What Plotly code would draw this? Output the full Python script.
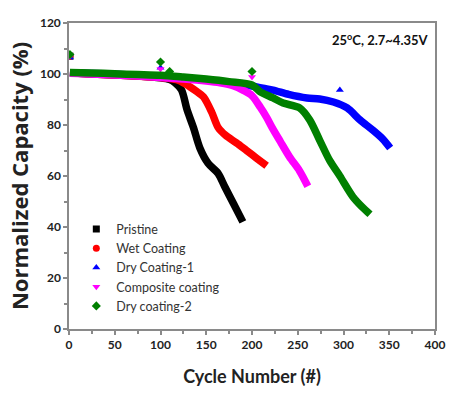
import plotly.graph_objects as go

# ---- data ----
names = ["Pristine", "Wet Coating", "Dry Coating-1", "Composite coating", "Dry coating-2"]
colors = ["#000000", "#ff0000", "#0000ff", "#ff00ff", "#008000"]
symbols = ["square", "circle", "triangle-up", "triangle-down", "diamond"]

pristine_x = [1, 10, 25, 50, 75, 100, 110, 116, 123, 129, 136, 143, 152, 163, 170, 180, 190]
pristine_y = [100.5, 100.3, 100, 99.6, 99.2, 98.5, 97.8, 96.5, 93.7, 86, 79, 71, 65, 61, 56, 49, 42]

wet_x = [1, 25, 50, 75, 100, 120, 132, 140, 147, 156, 163, 171, 183, 194, 205, 216]
wet_y = [100.5, 100, 99.6, 99.2, 98.6, 97.5, 95, 93, 91, 85, 79, 76, 73, 70, 67, 64]

dry1_x = [1, 25, 50, 75, 100, 125, 150, 175, 200, 212, 223, 240, 260, 274, 289, 304, 318, 332, 343, 351]
dry1_y = [100.5, 100.2, 99.9, 99.5, 99, 98.4, 97.6, 96.6, 95.3, 94.4, 93.7, 92, 90.6, 90.2, 89, 86.7, 82, 78, 74.5, 71]

comp_x = [1, 25, 50, 75, 100, 125, 150, 165, 180, 190, 200, 209, 216, 222, 231, 241, 252, 261]
comp_y = [100.3, 100, 99.6, 99.2, 98.6, 98, 97.2, 96.5, 95.3, 93.7, 91.5, 87, 83, 79, 73.5, 67.5, 62, 56]

dry2_x = [1, 25, 50, 75, 100, 125, 150, 175, 200, 209, 223, 234, 252, 263, 274, 285, 296, 310, 320, 329]
dry2_y = [100.6, 100.4, 100.1, 99.8, 99.5, 98.8, 98, 97, 95.7, 93, 90.6, 88.6, 86.7, 82, 74, 66, 60, 52, 48, 45]

# stray points (first cycle and rate-check cycles)
pristine_px, pristine_py = [1], [107]
wet_px, wet_py = [1], [107]
dry1_px, dry1_py = [1, 100, 296], [106.5, 102.5, 93.7]
comp_px, comp_py = [1, 100, 200], [107, 102, 98.8]
dry2_px, dry2_py = [1, 100, 110, 200], [107.6, 104.7, 101, 101]

x_ticks = [0, 50, 100, 150, 200, 250, 300, 350, 400]
y_ticks = [0, 20, 40, 60, 80, 100, 120]

curves = [(pristine_x, pristine_y), (wet_x, wet_y), (dry1_x, dry1_y), (comp_x, comp_y), (dry2_x, dry2_y)]
strays = [(pristine_px, pristine_py), (wet_px, wet_py), (dry1_px, dry1_py), (comp_px, comp_py), (dry2_px, dry2_py)]

fig = go.Figure()
for i, name in enumerate(names):
    cx, cy = curves[i]
    fig.add_trace(go.Scatter(x=cx, y=cy, mode="lines",
                             line=dict(color=colors[i], width=7.5, shape="spline", smoothing=0.8),
                             legendgroup=name, showlegend=False, hoverinfo="skip"))
    sx, sy = strays[i]
    fig.add_trace(go.Scatter(x=sx, y=sy, mode="markers", name=name, legendgroup=name,
                             marker=dict(color=colors[i], symbol=symbols[i], size=7)))

axis_common = dict(
    showline=True, linecolor="#8a8a8a", linewidth=1.5, mirror=True,
    ticks="outside", ticklen=4, tickcolor="#8a8a8a", tickwidth=1.5,
    showgrid=False, zeroline=False, automargin=False,
    tickfont=dict(family="Lato", size=12, color="#222222", weight="bold"),
)

fig.update_xaxes(range=[0, 400], tickvals=x_ticks,
                 minor=dict(dtick=25, ticks="outside", ticklen=3, tickcolor="#8a8a8a"),
                 title=dict(text="Cycle Number (#)", standoff=19,
                            font=dict(family="Lato", size=18, color="#222222", weight="bold")),
                 **axis_common)
fig.update_yaxes(range=[0, 120], tickvals=y_ticks,
                 minor=dict(dtick=10, ticks="outside", ticklen=3, tickcolor="#8a8a8a"),
                 title=dict(text="Normalized Capacity (%)", standoff=5,
                            font=dict(family="Open Sans", size=22, color="#222222", weight="bold")),
                 **axis_common)

fig.add_annotation(text="25<sup>o</sup>C, 2.7~4.35V", xref="paper", yref="paper", x=0.99, y=0.945,
                   xanchor="right", yanchor="middle", showarrow=False,
                   font=dict(family="Lato", size=13, color="#111111", weight="bold"))

fig.update_layout(
    width=454, height=406,
    margin=dict(l=69, r=19, t=23, b=77),
    plot_bgcolor="white", paper_bgcolor="white",
    legend=dict(x=0.02, y=0.375, xanchor="left", yanchor="top", bgcolor="rgba(0,0,0,0)",
                font=dict(family="Lato", size=12.5, color="#333333"), tracegroupgap=0),
    showlegend=True,
)

fig.write_html("out.html", config={"displayModeBar": False},
               post_script="document.body.style.margin='0';")
